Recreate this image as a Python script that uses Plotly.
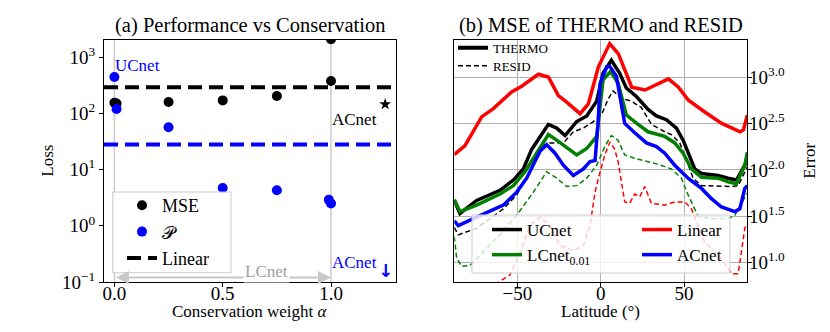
import plotly.graph_objects as go

FONT = "Liberation Serif"
BLUE = "#0000ff"
RED = "#ff0000"
GREEN = "#008000"

# ---------------- panel (a): loss vs conservation weight ----------------
alpha_mse = [0.0, 0.01, 0.25, 0.5, 0.75, 1.0, 1.0]
mse_vals = [155, 150, 160, 171, 205, 378, 2100]
alpha_p = [0.0, 0.01, 0.25, 0.5, 0.75, 0.99, 1.0]
p_vals = [447, 120, 57, 4.7, 4.3, 2.9, 2.5]
linear_mse = 292
linear_p = 28
acnet_alpha = 1.25
acnet_mse = 146
xa_range = [-0.048, 1.30]

# ---------------- panel (b): error vs latitude (log10 of error) ----------------
ucnet_th_lat = [-87.8, -84.4, -74.4, -68.4, -60.4, -52.4, -46.4, -41.4, -36.4, -31.4, -26.4, -21.4,
                -14.4, -8.4, -2.4, 1.4, 6.4, 11.4, 15.4, 21.4, 28.4, 33.4, 39.4, 45.4, 49.4, 53.4,
                56.4, 60.4, 70.4, 76.4, 81.4, 86.4, 87.9]
ucnet_th_log = [1.67, 1.53, 1.67, 1.72, 1.78, 1.89, 2.01, 2.22, 2.36, 2.49, 2.45, 2.37,
                2.52, 2.58, 2.74, 3.04, 3.18, 3.04, 2.88, 2.79, 2.65, 2.58, 2.54, 2.45, 2.32, 2.14,
                2.01, 1.96, 1.94, 1.91, 1.89, 2.05, 2.12]

ucnet_re_lat = [-87.8, -85.4, -74.4, -66.4, -58.4, -50.4, -42.4, -36.4, -30.4, -22.4, -16.4, -10.4,
                -4.4, 0.4, 4.4, 7.4, 12.4, 18.4, 24.4, 30.4, 38.4, 42.4, 47.4, 51.4, 55.4, 60.4,
                70.4, 78.4, 82.4, 86.4, 87.9]
ucnet_re_log = [1.38, 1.30, 1.37, 1.48, 1.58, 1.73, 1.98, 2.25, 2.29, 2.29, 2.41, 2.45,
                2.52, 2.59, 2.76, 2.85, 2.77, 2.74, 2.67, 2.49, 2.41, 2.38, 2.29, 2.11, 1.91, 1.83,
                1.82, 1.82, 1.83, 1.98, 2.03]

linear_th_lat = [-87.8, -81.4, -71.4, -64.4, -53.4, -47.4, -37.4, -31.4, -25.4, -20.4, -12.4, -7.4,
                 -1.4, 5.4, 10.6, 18.6, 26.6, 34.6, 40.6, 46.6, 52.6, 62.6, 72.6, 83.6, 85.6, 87.9]
linear_th_log = [2.165, 2.26, 2.57, 2.66, 2.84, 2.90, 3.03, 3.00, 2.80, 2.73, 2.605, 2.71,
                 3.11, 3.36, 3.25, 2.89, 2.86, 2.93, 2.98, 2.89, 2.75, 2.62, 2.50, 2.41, 2.43, 2.59]

linear_re_lat = [-87.8, -66.4, -60.4, -54.4, -48.4, -42.4, -36.4, -30.4, -24.4, -16.4, -10.4, -6.4,
                 -3.4, -1.4, 2.6, 5.6, 8.4, 10.4, 14.4, 17.4, 20.4, 23.4, 26.4, 30.4, 38.4, 44.4,
                 50.4, 54.4, 62.4, 72.4, 78.4, 82.4, 86.4, 87.9]
linear_re_log = [0.50, 0.70, 0.80, 0.87, 1.11, 1.40, 1.49, 1.40, 1.185, 1.13, 1.185, 1.40,
                 1.76, 1.91, 2.17, 2.30, 2.22, 2.09, 1.655, 1.64, 1.74, 1.71, 1.82, 1.64, 1.62, 1.655,
                 1.655, 1.58, 1.22, 1.045, 0.88, 0.88, 1.37, 1.42]

lcnet_th_lat = [-87.8, -84.4, -74.4, -68.4, -60.4, -52.4, -45.4, -38.4, -31.4, -26.4, -21.4, -14.4,
                -8.4, -2.4, 1.4, 6.0, 10.4, 15.4, 22.4, 28.4, 38.4, 44.4, 49.4, 54.4, 60.4, 70.4,
                76.4, 81.4, 86.4, 87.9]
lcnet_th_log = [1.68, 1.55, 1.62, 1.67, 1.74, 1.83, 1.98, 2.18, 2.38, 2.32, 2.25, 2.16,
                2.23, 2.36, 2.97, 3.06, 2.935, 2.59, 2.49, 2.41, 2.36, 2.29, 2.18, 2.01, 1.92, 1.91,
                1.87, 1.85, 2.05, 2.19]

lcnet_re_lat = [-87.8, -86.4, -83.4, -78.4, -72.4, -60.4, -50.4, -40.4, -32.4, -26.4, -20.4, -14.4,
                -8.4, -2.4, 2.4, 6.4, 10.4, 14.4, 20.4, 26.4, 32.4, 42.4, 48.4, 52.4, 58.4, 66.4,
                76.4, 80.4, 86.4, 87.9]
lcnet_re_log = [1.28, 1.05, 0.96, 0.97, 1.08, 1.30, 1.51, 1.76, 1.98, 1.91, 1.82, 1.83,
                1.91, 2.05, 2.25, 2.37, 2.32, 2.16, 2.125, 2.10, 2.07, 2.01, 1.91, 1.73, 1.50, 1.475,
                1.475, 1.51, 1.69, 1.75]

acnet_th_lat = [-87.8, -85.4, -74.4, -66.4, -58.4, -50.4, -44.4, -36.4, -32.4, -27.4, -22.4, -16.4,
                -10.4, -6.4, -3.4, -1.6, -0.4, 3.6, 5.4, 9.4, 14.4, 20.4, 27.4, 33.4, 38.4, 44.4,
                52.4, 60.4, 66.4, 72.4, 80.4, 83.4, 86.4, 87.9]
acnet_th_log = [1.45, 1.40, 1.49, 1.56, 1.62, 1.76, 1.91, 2.20, 2.27, 2.18, 2.05, 1.94,
                2.01, 2.09, 2.10, 2.50, 2.93, 3.11, 3.115, 3.01, 2.50, 2.40, 2.29, 2.25, 2.18, 2.05,
                1.91, 1.80, 1.69, 1.60, 1.55, 1.58, 1.80, 1.83]

xb_range = [-87.8, 87.9]
yb_ticks = [1.0, 1.5, 2.0, 2.5, 3.0]

# page body has an 8px margin, so work in page pixels and shift
W, H, OFF = 822, 324, 8


def fx(px):
    return (px - OFF) / W


def fy(py):
    return 1 - (py - OFF) / H


fig = go.Figure()

# panel (a)
fig.add_trace(go.Scatter(x=xa_range, y=[linear_mse] * 2, mode="lines", name="Linear",
                         line=dict(color="black", width=4, dash="14px,7px"),
                         xaxis="x", yaxis="y", legend="legend", legendrank=3))
fig.add_trace(go.Scatter(x=xa_range, y=[linear_p] * 2, mode="lines", showlegend=False,
                         line=dict(color=BLUE, width=4, dash="14px,7px"), xaxis="x", yaxis="y"))
fig.add_trace(go.Scatter(x=alpha_mse, y=mse_vals, mode="markers", name="MSE",
                         marker=dict(color="black", size=10), xaxis="x", yaxis="y",
                         legend="legend", legendrank=1))
fig.add_trace(go.Scatter(x=alpha_p, y=p_vals, mode="markers", name="𝒫",
                         marker=dict(color=BLUE, size=10), xaxis="x", yaxis="y",
                         legend="legend", legendrank=2))
fig.add_trace(go.Scatter(x=[acnet_alpha], y=[acnet_mse], mode="markers", showlegend=False,
                         marker=dict(color="black", size=9, symbol="star"), xaxis="x", yaxis="y"))

# panel (b)
series = [
    ("UCnet", "black", ucnet_th_lat, ucnet_th_log, ucnet_re_lat, ucnet_re_log, "legend2"),
    ("Linear", RED, linear_th_lat, linear_th_log, linear_re_lat, linear_re_log, "legend4"),
    ("LCnet<sub>0.01</sub>", GREEN, lcnet_th_lat, lcnet_th_log, lcnet_re_lat, lcnet_re_log, "legend2"),
    ("ACnet", BLUE, acnet_th_lat, acnet_th_log, None, None, "legend4"),
]
for name, col, tlat, tlog, rlat, rlog, leg in series:
    if rlat is not None:
        fig.add_trace(go.Scatter(x=rlat, y=[10 ** v for v in rlog], mode="lines", showlegend=False,
                                 line=dict(color=col, width=1.5, dash="5px,3px"),
                                 xaxis="x2", yaxis="y2"))
    fig.add_trace(go.Scatter(x=tlat, y=[10 ** v for v in tlog], mode="lines", name=name,
                             line=dict(color=col, width=3.5), xaxis="x2", yaxis="y2",
                             legend=leg))

# style legend (THERMO / RESID)
fig.add_trace(go.Scatter(x=[None], y=[None], mode="lines", name="THERMO",
                         line=dict(color="black", width=4), xaxis="x2", yaxis="y2", legend="legend3"))
fig.add_trace(go.Scatter(x=[None], y=[None], mode="lines", name="RESID",
                         line=dict(color="black", width=1.5, dash="5px,3px"),
                         xaxis="x2", yaxis="y2", legend="legend5"))

axis_common = dict(showline=True, linecolor="black", linewidth=1, mirror=True, ticks="outside",
                   ticklen=4, tickcolor="black", zeroline=False, automargin=False,
                   tickfont=dict(family=FONT, size=19, color="black"))

clear = "rgba(0,0,0,0)"
fig.update_layout(
    width=W, height=H, margin=dict(l=0, r=0, t=0, b=0, autoexpand=False),
    plot_bgcolor="white", paper_bgcolor="white",
    font=dict(family=FONT, color="black"),
    xaxis=dict(domain=[fx(104), fx(396)], range=xa_range, tickvals=[0, 0.5, 1.0],
               ticktext=["0.0", "0.5", "1.0"], showgrid=False, anchor="y",
               ticklabelstandoff=-10, **axis_common),
    yaxis=dict(domain=[fy(282), fy(39.5)], type="log", range=[-1, 3.317],
               tickvals=[0.1, 1, 10, 100, 1000],
               ticktext=["10<sup>−1</sup>", "10<sup>0</sup>", "10<sup>1</sup>", "10<sup>2</sup>",
                         "10<sup>3</sup>"],
               showgrid=False, anchor="x", **axis_common),
    xaxis2=dict(domain=[fx(454.3), fx(747.3)], range=xb_range, tickvals=[-50, 0, 50],
                showgrid=True, gridcolor="#b0b0b0", gridwidth=1, anchor="y2",
                ticklabelstandoff=-10, **axis_common),
    yaxis2=dict(domain=[fy(282), fy(39.5)], type="log", range=[0.792, 3.404], side="right",
                tickvals=[10 ** v for v in yb_ticks],
                ticktext=[f"10<sup>{v:.1f}</sup>" for v in yb_ticks],
                showgrid=True, gridcolor="#b0b0b0", gridwidth=1, anchor="x2",
                ticklabelstandoff=-7, **axis_common),
    legend=dict(x=fx(122), y=fy(187), xanchor="left", yanchor="top", bgcolor=clear,
                font=dict(family=FONT, size=18), tracegroupgap=0),
    legend2=dict(x=fx(487), y=fy(212), xanchor="left", yanchor="top", bgcolor=clear,
                 font=dict(family=FONT, size=17), tracegroupgap=0),
    legend4=dict(x=fx(637), y=fy(212), xanchor="left", yanchor="top", bgcolor=clear,
                 font=dict(family=FONT, size=17), tracegroupgap=0),
    legend3=dict(x=fx(453), y=fy(47.7), xanchor="left", yanchor="middle", bgcolor=clear,
                 font=dict(family=FONT, size=13)),
    legend5=dict(x=fx(453), y=fy(65.7), xanchor="left", yanchor="middle", bgcolor=clear,
                 font=dict(family=FONT, size=13)),
)

# legend frames (semi-transparent, like matplotlib)
for x0, x1, y0, y1 in [(112.7, 231, 192, 272.7), (472, 730, 215, 273)]:
    fig.add_shape(type="rect", xref="paper", yref="paper", x0=fx(x0), x1=fx(x1), y0=fy(y1), y1=fy(y0),
                  fillcolor="rgba(255,255,255,0.8)", line=dict(color="#cccccc", width=1), layer="above")

# vertical guides at alpha = 0 and alpha = 1
for xv in [0.0, 1.0]:
    fig.add_shape(type="line", xref="x", yref="y domain", x0=xv, x1=xv, y0=0, y1=1,
                  line=dict(color="#cccccc", width=1.5), layer="below")

# axis titles as annotations (exact placement)
for cx, cy, txt, ang in [(250, 311.5, "Conservation weight <i>α</i>", 0),
                         (600.8, 311.5, "Latitude (°)", 0),
                         (48, 160.7, "Loss", -90),
                         (810, 160.7, "Error", -90)]:
    fig.add_annotation(xref="paper", yref="paper", x=fx(cx), y=fy(cy), text=txt, textangle=ang,
                       showarrow=False, font=dict(size=17), xanchor="center", yanchor="middle")

# LCnet double arrow
fig.add_annotation(xref="x", yref="y", axref="x", ayref="y", x=1.0, y=-0.92, ax=0.0, ay=-0.92,
                   text="", showarrow=True, arrowside="end+start", arrowhead=2, arrowsize=1.3,
                   arrowwidth=2, arrowcolor="#c8c8c8")
fig.add_annotation(xref="x", yref="y", x=0.70, y=-0.82, text="LCnet", showarrow=False,
                   bgcolor="white", font=dict(size=17, color="#a0a0a0"))
fig.add_annotation(xref="x", yref="y", x=0.105, y=2.85, text="UCnet", showarrow=False,
                   font=dict(size=17, color=BLUE))
fig.add_annotation(xref="x", yref="y", x=1.107, y=1.90, text="ACnet", showarrow=False,
                   font=dict(size=17, color="black"))
fig.add_annotation(xref="x", yref="y", x=1.107, y=-0.656, text="ACnet", showarrow=False,
                   font=dict(size=17, color=BLUE))
fig.add_annotation(xref="x", yref="y", x=1.252, y=-0.80, text="<b>↓</b>", showarrow=False,
                   font=dict(family="DejaVu Sans", size=18, color=BLUE))

# panel titles
for cx, txt in [(250, "(a) Performance vs Conservation"), (600.8, "(b) MSE of THERMO and RESID")]:
    fig.add_annotation(xref="paper", yref="paper", x=fx(cx), y=fy(25.5), text=txt,
                       showarrow=False, font=dict(size=20.5), xanchor="center", yanchor="middle")

fig.write_html("out.html")
